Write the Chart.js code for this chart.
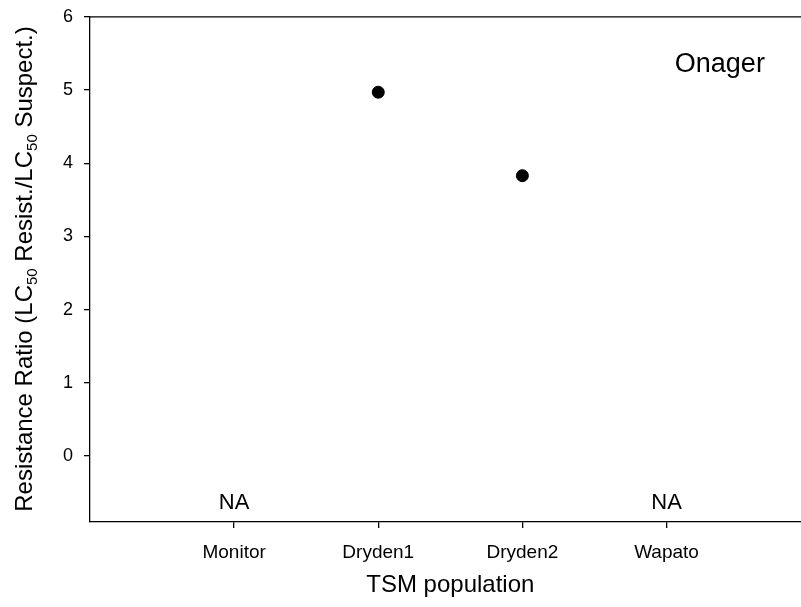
<!DOCTYPE html>
<html>
<head>
<meta charset="utf-8">
<script src="https://cdn.jsdelivr.net/npm/chart.js@4/dist/chart.umd.min.js"></script>
<style>
  html, body { margin: 0; padding: 0; background: #fff; overflow: hidden; }
  #wrap { width: 801px; height: 607px; overflow: hidden; }
  /* the axis boxes reserve a few pixels at top/right; the canvas is a bit
     larger and shifted so the plot frame lands where the original has it */
  #chart { display: block; margin-top: -5px; }
</style>
</head>
<body>
<div id="wrap"><canvas id="chart" width="809" height="612"></canvas></div>
<script>
const populations = ['Monitor', 'Dryden1', 'Dryden2', 'Wapato'];
const ratios = [null, 4.97, 3.83, null];   // null = not available (NA)
const yTicks = [0, 1, 2, 3, 4, 5, 6];
const panelLabel = 'Onager';
const FONT = "'Liberation Sans', Arial, sans-serif";
const SHIFT = 5;

const points = [];
ratios.forEach((v, i) => {
  if (v !== null) points.push({ x: i + 1, y: v });
});

// extra text: NA labels, panel name, axis titles (y title has subscripts)
const annotations = {
  id: 'annotations',
  afterDraw(chart) {
    const { ctx, chartArea, scales } = chart;
    const x = scales.x, y = scales.y;
    ctx.save();
    ctx.fillStyle = '#000';

    // top frame line
    ctx.strokeStyle = '#000';
    ctx.lineWidth = 1.3;
    ctx.beginPath();
    ctx.moveTo(chartArea.left, chartArea.top);
    ctx.lineTo(chartArea.right, chartArea.top);
    ctx.stroke();

    // NA labels
    ctx.font = '22px ' + FONT;
    ctx.textAlign = 'center';
    ctx.textBaseline = 'alphabetic';
    ratios.forEach((v, i) => {
      if (v === null) ctx.fillText('NA', x.getPixelForValue(i + 1), y.getPixelForValue(-0.72));
    });

    // panel label
    ctx.font = '27px ' + FONT;
    ctx.textAlign = 'center';
    ctx.textBaseline = 'middle';
    ctx.fillText(panelLabel, x.getPixelForValue(4.37), y.getPixelForValue(5.35));

    // x title
    ctx.font = '24px ' + FONT;
    ctx.textBaseline = 'alphabetic';
    ctx.fillText('TSM population', (x.getPixelForValue(1) + x.getPixelForValue(4)) / 2, 592 + SHIFT);

    // y title with subscripts
    const parts = [
      ['Resistance Ratio (LC', false], ['50', true], [' Resist./LC', false],
      ['50', true], [' Suspect.)', false]
    ];
    const big = '24px ' + FONT, small = '15px ' + FONT;
    let total = 0;
    parts.forEach(([t, sub]) => { ctx.font = sub ? small : big; total += ctx.measureText(t).width; });
    ctx.translate(32, 269 + SHIFT);
    ctx.rotate(-Math.PI / 2);
    ctx.textAlign = 'left';
    let cx = -total / 2;
    parts.forEach(([t, sub]) => {
      ctx.font = sub ? small : big;
      ctx.fillText(t, cx, sub ? 5 : 0);
      cx += ctx.measureText(t).width;
    });
    ctx.restore();
  }
};

new Chart(document.getElementById('chart'), {
  type: 'scatter',
  data: {
    datasets: [{
      data: points,
      backgroundColor: '#000',
      borderColor: '#000',
      pointRadius: 6,
      pointHoverRadius: 6
    }]
  },
  options: {
    responsive: false,
    animation: false,
    layout: { padding: { top: 16, left: 0, right: 0, bottom: 0 } },
    plugins: { legend: { display: false }, tooltip: { enabled: false } },
    scales: {
      x: {
        type: 'linear',
        min: 0,
        max: 4.94,
        afterBuildTicks: s => { s.ticks = populations.map((_, i) => ({ value: i + 1 })); },
        afterFit: s => { s.height = 85; },
        ticks: {
          callback: v => populations[v - 1],
          color: '#000',
          font: { family: FONT, size: 19 },
          padding: 13,
          maxRotation: 0
        },
        grid: { drawOnChartArea: false, drawTicks: true, tickLength: 6, color: '#000', lineWidth: 1.3 },
        border: { color: '#000', width: 1.3 }
      },
      y: {
        min: -0.9,
        max: 6,
        afterBuildTicks: s => { s.ticks = yTicks.map(v => ({ value: v })); },
        afterFit: s => { s.width = 90; },
        ticks: {
          color: '#000',
          font: { family: FONT, size: 18 },
          padding: 11
        },
        grid: { drawOnChartArea: false, drawTicks: true, tickLength: 6, color: '#000', lineWidth: 1.3 },
        border: { color: '#000', width: 1.3 }
      }
    }
  },
  plugins: [annotations]
});
</script>
</body>
</html>
